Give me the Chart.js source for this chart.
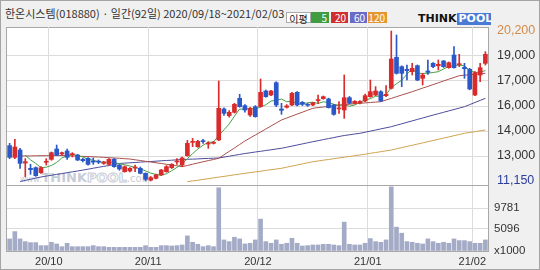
<!DOCTYPE html>
<html><head><meta charset="utf-8">
<script src="https://cdn.jsdelivr.net/npm/chart.js@4"></script>
<style>
html,body{margin:0;padding:0}
body{width:540px;height:270px;overflow:hidden;background:#f0f0f0;position:relative;font-family:'Noto Sans CJK KR','Liberation Sans',sans-serif}
#frame{position:absolute;left:0;top:0;width:540px;height:270px;box-sizing:border-box;border:1px solid #a4a4a4}
.panel{position:absolute;background:#fff;box-sizing:border-box;border:1px solid #a8a8a8}
#p1{left:6px;top:27px;width:483px;height:159px}
#p2{left:6px;top:185px;width:483px;height:67px}
canvas{position:absolute;left:0;top:0}
#title{position:absolute;left:5px;top:6px;font-size:11px;line-height:14px;color:#333;white-space:nowrap}
#legend{position:absolute;left:286px;top:12px;height:11px;font-size:10px;line-height:11px;white-space:nowrap}
#legend span{position:absolute;top:0;height:11px;color:#fff;text-align:right;box-sizing:border-box;padding-right:2px}
#logo{position:absolute;left:418px;top:13px;height:12px;font:bold 11px 'DejaVu Sans',sans-serif;line-height:12px;white-space:nowrap}
#wm{position:absolute;left:20px;top:170px;color:#c8ccd6;white-space:nowrap;font-family:'DejaVu Sans',sans-serif;line-height:14px}
</style></head>
<body>
<div id="frame"></div>
<div id="title">한온시스템(018880) · 일간(92일) 2020/09/18~2021/02/03</div>
<div id="legend">
<span style="left:0;width:25px;background:#fff;border:1px solid #aaa;color:#222;text-align:center;padding:0">이평</span>
<span style="left:25px;width:18px;background:#3f9c3f">5</span>
<span style="left:45px;width:17px;background:#cf2f2f">20</span>
<span style="left:64px;width:17px;background:#6a6ac8">60</span>
<span style="left:82px;width:19px;background:#e6962e">120</span>
</div>
<div id="logo"><span style="color:#111;letter-spacing:0px">THINK</span><span style="background:#4a7bd4;color:#fff;padding:0 2px;display:inline-block;width:30px">POOL</span></div>
<div class="panel" id="p1"></div>
<div class="panel" id="p2"></div>
<div id="wm"><span style="font-size:8px">www.</span><b style="font-size:13px">THINK</b><b style="font-size:13px;color:#fff;-webkit-text-stroke:1px #c8ccd6">POOL</b><span style="font-size:10px">.com</span></div>
<canvas id="price" width="540" height="270"></canvas>
<canvas id="vol" width="540" height="270"></canvas>
<script>
const DATES = ['20/09/18','20/09/21','20/09/22','20/09/23','20/09/24','20/09/25','20/09/28','20/09/29',
'20/10/05','20/10/06','20/10/07','20/10/08','20/10/12','20/10/13','20/10/14','20/10/15','20/10/16','20/10/19','20/10/20','20/10/21','20/10/22','20/10/23','20/10/26','20/10/27','20/10/28','20/10/29','20/10/30',
'20/11/02','20/11/03','20/11/04','20/11/05','20/11/06','20/11/09','20/11/10','20/11/11','20/11/12','20/11/13','20/11/16','20/11/17','20/11/18','20/11/19','20/11/20','20/11/23','20/11/24','20/11/25','20/11/26','20/11/27','20/11/30',
'20/12/01','20/12/02','20/12/03','20/12/04','20/12/07','20/12/08','20/12/09','20/12/10','20/12/11','20/12/14','20/12/15','20/12/16','20/12/17','20/12/18','20/12/21','20/12/22','20/12/23','20/12/24','20/12/28','20/12/29','20/12/30',
'21/01/04','21/01/05','21/01/06','21/01/07','21/01/08','21/01/11','21/01/12','21/01/13','21/01/14','21/01/15','21/01/18','21/01/19','21/01/20','21/01/21','21/01/22','21/01/25','21/01/26','21/01/27','21/01/28','21/01/29',
'21/02/01','21/02/02','21/02/03'];

const OPEN = [13282,12578,13020,12235,11914,11954,11652,12280,12457,13080,12780,12960,12740,12719,12457,12518,12340,12330,12215,12155,12457,12100,11713,11754,11934,11914,11612,11200,11310,11512,11713,11954,12300,12115,12680,13480,13221,13583,13380,13420,13624,15494,15091,15293,16137,15695,15132,15635,15635,16580,16338,17082,15494,15600,15735,16499,15896,15780,15735,16000,16117,16097,15735,15500,15433,16177,15836,15850,15977,16238,16338,16539,16298,16740,18611,18048,17887,17746,18108,17344,17786,18249,18108,18390,17987,18752,18168,18007,17887,16338,17545,18249];
const HIGH = [13420,13664,13120,12500,12155,12000,12015,12500,12900,13320,12900,13080,12860,12760,12520,12560,12540,12420,12340,12500,12520,12150,12060,11960,12115,11990,11640,11420,11560,11850,12080,12200,12500,12600,13600,13720,13600,13664,13523,13540,17183,15560,15400,15836,16379,15760,15600,15700,17304,16640,16620,17143,15836,15760,16500,16540,15950,15830,15900,16338,16280,16150,15780,15936,17545,16250,16000,16000,16400,17243,16841,16600,16901,20200,19958,18100,18148,18249,18150,17646,18450,18300,18450,18420,18330,19254,18792,18249,17950,17750,18249,18953];
const LOW = [12500,12500,11914,11400,11552,11430,11600,12115,12400,12680,12700,12457,12600,12380,12300,12100,12155,12200,12150,12100,11980,11800,11680,11700,11713,11580,11150,11160,11280,11480,11680,11900,12150,12015,12640,13220,13180,13420,13121,13380,13580,15100,15000,15250,15600,15300,15050,15000,15600,16200,16300,15635,15172,15550,15700,15680,15700,15650,15700,15836,16080,15550,15120,15232,14930,15800,15800,15800,15930,16200,16300,15950,16238,16700,17600,16841,17243,17545,17200,16942,17585,17990,17847,18000,17950,17950,18048,17344,16650,16300,17143,18148];
const CLOSE = [12578,13200,12215,12316,11834,11471,11954,12330,12860,12719,12860,12578,12780,12417,12377,12155,12290,12290,12290,12457,12015,11874,12015,11914,11994,11612,11250,11351,11512,11813,12015,12155,12360,12540,13422,13530,13543,13523,13420,13483,15534,15232,15293,15775,15635,15433,15534,15031,16499,16238,16580,15735,15413,15680,16439,15735,15775,15720,15870,16037,16238,15574,15172,15534,16177,15836,15957,15950,16298,16539,16580,15977,16380,18510,17646,17646,17807,17947,17243,17545,17706,18048,18188,18048,18289,17987,18228,17927,16700,17686,17987,18792];
const VOLUME = [2750,4420,2750,2140,1910,1910,1220,1220,1990,1600,990,1760,990,990,990,990,1220,990,990,840,840,840,840,840,840,840,1220,840,840,1220,1220,1140,1220,1370,3440,1990,1530,990,1220,990,14400,2520,2140,3130,2750,1600,1760,2520,7260,2140,1760,2520,1530,1760,2900,1760,1140,1220,1370,1370,1530,1530,1370,1220,6570,1530,1370,1370,1760,2830,2140,1990,2520,14600,5430,4050,2140,1990,1760,1600,2750,2140,1760,1990,1760,2750,2370,2370,2140,1760,1760,2520];

const MA5 = [null,null,null,12700,12429,12207,11958,11981,12090,12267,12545,12669,12759,12671,12602,12461,12404,12306,12280,12296,12268,12185,12130,12055,11962,11882,11757,11624,11544,11508,11588,11769,11971,12177,12498,12801,13079,13312,13488,13500,13901,14238,14592,15063,15494,15474,15534,15482,15626,15747,15976,16017,16093,15929,15969,15800,15808,15870,15908,15827,15928,15888,15778,15711,15739,15659,15735,15891,16044,16116,16265,16269,16355,16797,17019,17232,17598,17911,17658,17638,17650,17698,17746,17907,18056,18112,18148,18096,17826,17706,17706,17818];
const MA20 = [null,null,12658,12664,12664,12670,12676,12676,12682,12682,12688,12676,12664,12652,12634,12622,12610,12598,12580,12556,12538,12520,12495,12477,12429,12387,12338,12296,12248,12206,12158,12115,12067,12013,12085,12164,12236,12308,12381,12447,12520,12731,12936,13141,13352,13563,13744,13925,14106,14287,14468,14649,14830,14951,15065,15186,15301,15421,15536,15578,15614,15657,15693,15735,15759,15783,15814,15838,15862,15886,15910,15934,16037,16133,16236,16338,16435,16537,16646,16755,16857,16966,17074,17183,17292,17394,17503,17533,17563,17587,17617,17648];
const MA60 = [null,null,11120,11186,11253,11325,11391,11446,11494,11548,11596,11651,11705,11753,11808,11862,11922,11977,12031,12085,12145,12206,12230,12248,12266,12290,12308,12326,12345,12369,12387,12405,12429,12447,12459,12471,12483,12501,12513,12526,12538,12592,12646,12700,12755,12809,12851,12900,12942,12990,13032,13081,13123,13189,13256,13322,13388,13455,13521,13581,13648,13708,13768,13835,13895,13937,13986,14028,14094,14160,14227,14293,14360,14426,14516,14601,14691,14776,14866,14951,15041,15126,15210,15295,15379,15464,15548,15633,15759,15886,16013,16139];
const MA120 = [null,null,null,null,null,null,null,null,null,null,null,null,null,null,null,null,null,null,null,null,null,null,null,null,null,null,null,null,null,null,null,null,null,null,11108,11156,11198,11247,11289,11337,11385,11428,11476,11524,11566,11615,11657,11699,11741,11789,11832,11874,11916,11983,12049,12115,12182,12248,12314,12357,12405,12447,12495,12538,12586,12628,12676,12719,12767,12821,12869,12918,12972,13020,13093,13165,13237,13304,13376,13449,13521,13593,13666,13738,13811,13883,13955,14028,14076,14124,14179,14227];

const PRICE_TICKS = [11150,12658.33,14166.67,15675,17183.33,18691.67,20200];
const PRICE_LABELS = ['11,150','13,000','14,000','16,000','17,000','19,000','20,200'];
const VOL_TICKS = [0,5096,9781];
const VOL_LABELS = ['x1000','5096','9781'];

const RED='#d92b2b', BLUE='#2a58c8', GRID='#dcdcdc', CLEAR='rgba(0,0,0,0)';
Chart.defaults.font.family = "'Liberation Sans Narrow','Liberation Sans',sans-serif";
Chart.defaults.color = '#333';

const monthStart = DATES.map((d,i)=> i>0 && d.slice(3,5)!==DATES[i-1].slice(3,5));
const cColors = CLOSE.map((c,i)=> c>=OPEN[i] ? RED : BLUE);

function xScale(showLabels){
  return {
    type:'category', offset:true,
    grid:{offset:true, drawTicks:false, color:c=> monthStart[c.index] ? GRID : CLEAR},
    border:{display:false},
    ticks:{display:showLabels, autoSkip:false, maxRotation:0, minRotation:0, padding:4, labelOffset:-2.6,
      font:{size:11}, color:'#333',
      callback:(v,i)=> monthStart[i] ? DATES[i].slice(0,5) : ''},
    afterFit:s=>{ s.height = showLabels ? 19 : 0; }
  };
}

new Chart(document.getElementById('price'), {
  data:{
    labels:DATES,
    datasets:[
      {type:'bar', data:OPEN.map((o,i)=>[OPEN[i],CLOSE[i]]), backgroundColor:cColors, barThickness:4, grouped:false, minBarLength:1, order:0},
      {type:'bar', data:LOW.map((l,i)=>[LOW[i],HIGH[i]]), backgroundColor:cColors, barThickness:1, grouped:false, order:1},
      {type:'line', data:MA5, borderColor:'#45a045', borderWidth:1, pointRadius:0, tension:0, order:2},
      {type:'line', data:MA20, borderColor:'#a8504c', borderWidth:1, pointRadius:0, tension:0, order:3},
      {type:'line', data:MA60, borderColor:'#4c4c9c', borderWidth:1, pointRadius:0, tension:0, order:4},
      {type:'line', data:MA120, borderColor:'#cfa450', borderWidth:1, pointRadius:0, tension:0, order:5}
    ]
  },
  options:{
    responsive:false, animation:false, devicePixelRatio:1,
    layout:{padding:{left:7, top:27, right:0, bottom:85}},
    plugins:{legend:{display:false}, tooltip:{enabled:false}},
    scales:{
      x:xScale(false),
      y:{position:'right', min:10908.7, max:20441.3,
        afterBuildTicks:s=>{ s.ticks = PRICE_TICKS.map(v=>({value:v})); },
        grid:{drawTicks:false, color:c=> (c.index===0||c.index===PRICE_TICKS.length-1) ? CLEAR : GRID},
        border:{display:false},
        ticks:{padding:9, font:{size:12.5},
          color:c=> c.index===0 ? '#2c3c9c' : (c.index===PRICE_TICKS.length-1 ? '#d58a4a' : '#333'),
          callback:(v,i)=>PRICE_LABELS[i]},
        afterFit:s=>{ s.width = 52; }
      }
    }
  }
});

new Chart(document.getElementById('vol'), {
  type:'bar',
  data:{labels:DATES, datasets:[{data:VOLUME, backgroundColor:'#a4abc6', barThickness:4}]},
  options:{
    responsive:false, animation:false, devicePixelRatio:1,
    layout:{padding:{left:7, top:186, right:0, bottom:0}},
    plugins:{legend:{display:false}, tooltip:{enabled:false}},
    scales:{
      x:xScale(true),
      y:{position:'right', min:0, max:14800,
        afterBuildTicks:s=>{ s.ticks = VOL_TICKS.map(v=>({value:v})); },
        grid:{drawTicks:false, color:c=> c.index===0 ? CLEAR : GRID},
        border:{display:false},
        ticks:{padding:6, font:{size:11.5}, color:'#333', callback:(v,i)=>VOL_LABELS[i]},
        afterFit:s=>{ s.width = 52; }
      }
    }
  }
});
</script>
</body></html>
